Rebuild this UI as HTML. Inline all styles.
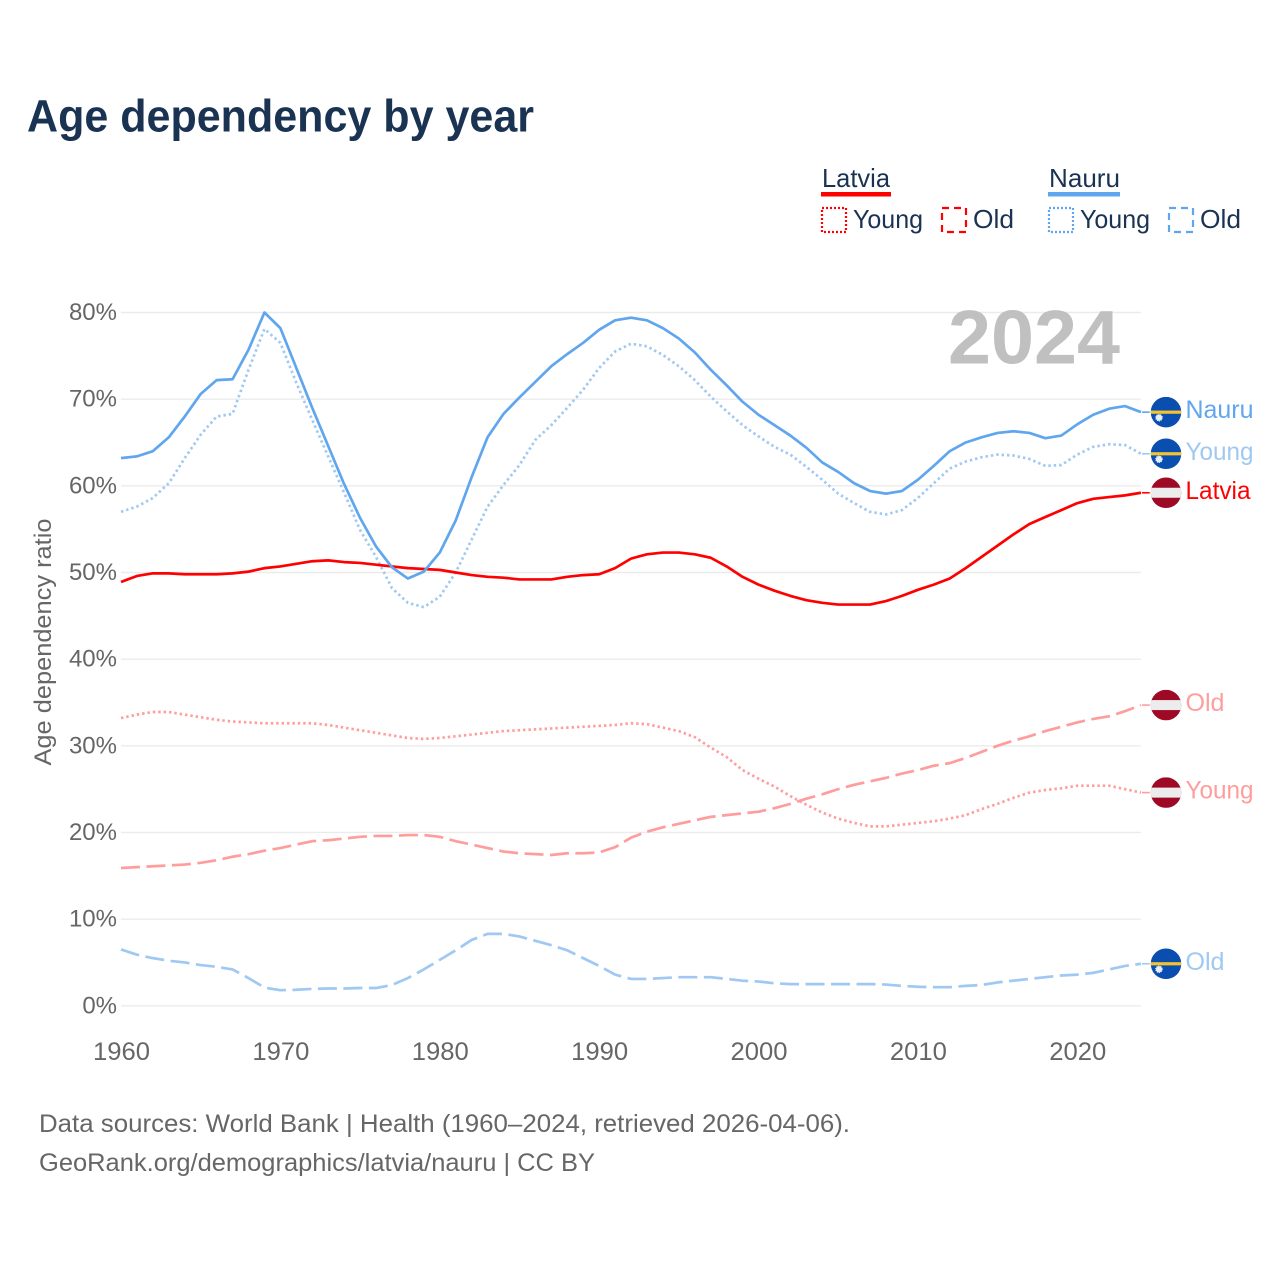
<!DOCTYPE html>
<html lang="en">
<head>
<meta charset="utf-8">
<title>Age dependency by year</title>
<style>
html,body{margin:0;padding:0;background:#fff;width:1280px;height:1280px;overflow:hidden}
svg{display:block}
text{font-family:"Liberation Sans",sans-serif}
</style>
</head>
<body>
<svg id="chart" xmlns="http://www.w3.org/2000/svg" width="1280" height="1280" viewBox="0 0 1280 1280">
  <rect width="1280" height="1280" fill="#ffffff"/>
  <text x="27" y="131.5" font-size="45" font-weight="700" fill="#1a3352" textLength="507" lengthAdjust="spacingAndGlyphs">Age dependency by year</text>

  <g font-size="26" fill="#1a3352">
    <text x="822" y="187" textLength="68" lengthAdjust="spacingAndGlyphs">Latvia</text>
    <rect x="821" y="192" width="70" height="4.5" fill="#ff0000"/>
    <rect x="822" y="208" width="24" height="24" fill="none" stroke="#ff0000" stroke-width="2.2" stroke-dasharray="2 2"/>
    <text x="853" y="228" textLength="70" lengthAdjust="spacingAndGlyphs">Young</text>
    <rect x="942" y="208" width="24" height="24" fill="none" stroke="#ff0000" stroke-width="2.2" stroke-dasharray="7 5"/>
    <text x="973" y="228" textLength="41" lengthAdjust="spacingAndGlyphs">Old</text>
    <text x="1049" y="187" textLength="71" lengthAdjust="spacingAndGlyphs">Nauru</text>
    <rect x="1048" y="192" width="72" height="4.5" fill="#5fa6ee"/>
    <rect x="1049" y="208" width="24" height="24" fill="none" stroke="#5fa6ee" stroke-width="2.2" stroke-dasharray="2 2"/>
    <text x="1080" y="228" textLength="70" lengthAdjust="spacingAndGlyphs">Young</text>
    <rect x="1169" y="208" width="24" height="24" fill="none" stroke="#5fa6ee" stroke-width="2.2" stroke-dasharray="7 5"/>
    <text x="1200" y="228" textLength="41" lengthAdjust="spacingAndGlyphs">Old</text>
  </g>

  <g id="grid"></g>
  <g id="yticks"></g>
  <g id="xticks"></g>
  <text x="948" y="363.5" font-size="76" font-weight="700" fill="#c0c0c0" textLength="172" lengthAdjust="spacingAndGlyphs">2024</text>
  <text transform="translate(51 642) rotate(-90)" text-anchor="middle" font-size="24" fill="#666666" textLength="247" lengthAdjust="spacingAndGlyphs">Age dependency ratio</text>
  <g id="series"></g>
  <g id="endmarks"></g>

  <text x="39" y="1132" font-size="25" fill="#666666" textLength="811" lengthAdjust="spacingAndGlyphs">Data sources: World Bank | Health (1960–2024, retrieved 2026-04-06).</text>
  <text x="39" y="1171" font-size="25" fill="#666666" textLength="556" lengthAdjust="spacingAndGlyphs">GeoRank.org/demographics/latvia/nauru | CC BY</text>
</svg>
<script>
var firstYear = 1960;
var lastYear = 2024;
var yearTicks = [1960, 1970, 1980, 1990, 2000, 2010, 2020];
var percentTicks = [0, 10, 20, 30, 40, 50, 60, 70, 80];

var nauruTotal = [63.2,63.4,64,65.6,68,70.6,72.2,72.3,75.7,80,78.2,73.6,69,64.6,60.2,56.3,53,50.6,49.3,50.1,52.3,56,61,65.6,68.3,70.2,72,73.8,75.2,76.5,78,79.1,79.4,79.1,78.2,77,75.4,73.4,71.6,69.7,68.2,67,65.8,64.4,62.7,61.6,60.3,59.4,59.1,59.4,60.7,62.3,64,65,65.6,66.1,66.3,66.1,65.5,65.8,67.1,68.2,68.9,69.2,68.5];
var nauruYoung = [57,57.6,58.6,60.3,63.2,65.9,68,68.3,73.4,78.1,76.5,71.9,67.6,63.4,59.2,54.9,51.8,48.2,46.5,46,47.2,50,53.8,57.6,60.1,62.4,65.3,67,69,71.1,73.6,75.5,76.4,76.1,75.1,73.8,72.2,70.3,68.6,67,65.7,64.5,63.6,62.2,60.7,59.1,58,57,56.7,57.2,58.6,60.3,62,62.8,63.3,63.6,63.5,63.1,62.3,62.4,63.6,64.5,64.8,64.7,63.7];
var nauruOld = [6.5,5.9,5.5,5.2,5,4.7,4.5,4.2,3.2,2.1,1.8,1.85,1.95,2,2,2.05,2.05,2.4,3.2,4.2,5.3,6.4,7.6,8.3,8.3,8,7.5,7,6.4,5.5,4.6,3.6,3.1,3.1,3.2,3.3,3.3,3.3,3.1,2.9,2.8,2.6,2.5,2.5,2.5,2.5,2.5,2.5,2.45,2.3,2.2,2.15,2.15,2.3,2.4,2.7,2.9,3.1,3.3,3.5,3.6,3.8,4.2,4.6,4.85];
var latviaTotal = [48.9,49.6,49.9,49.9,49.8,49.8,49.8,49.9,50.1,50.5,50.7,51,51.3,51.4,51.2,51.1,50.9,50.7,50.5,50.4,50.3,50,49.7,49.5,49.4,49.2,49.2,49.2,49.5,49.7,49.8,50.5,51.6,52.1,52.3,52.3,52.1,51.7,50.7,49.5,48.6,47.9,47.3,46.8,46.5,46.3,46.3,46.3,46.7,47.3,48,48.6,49.3,50.5,51.8,53.1,54.4,55.6,56.4,57.2,58,58.5,58.7,58.9,59.2];
var latviaYoung = [33.2,33.6,33.9,33.9,33.6,33.3,33,32.8,32.7,32.6,32.6,32.6,32.6,32.4,32.1,31.8,31.5,31.2,30.9,30.8,30.9,31.1,31.3,31.5,31.7,31.8,31.9,32,32.1,32.2,32.3,32.4,32.6,32.5,32.1,31.7,31,29.8,28.7,27.2,26.2,25.3,24.2,23.2,22.3,21.6,21.1,20.7,20.7,20.9,21.1,21.3,21.6,22,22.7,23.3,24,24.6,24.9,25.1,25.4,25.4,25.4,25,24.6];
var latviaOld = [15.9,16,16.1,16.2,16.3,16.5,16.8,17.2,17.5,17.9,18.2,18.6,19,19.1,19.3,19.5,19.6,19.6,19.7,19.7,19.5,19,18.6,18.2,17.8,17.6,17.5,17.4,17.6,17.6,17.7,18.3,19.4,20.1,20.6,21,21.4,21.8,22,22.2,22.4,22.8,23.3,23.9,24.4,25,25.5,25.9,26.3,26.8,27.2,27.7,28,28.6,29.3,30,30.6,31.1,31.7,32.2,32.7,33.1,33.4,34,34.7];

var NS = 'http://www.w3.org/2000/svg';
var chartLeft = 121, chartRight = 1141, zeroY = 1005.8, topY = 312.5, maxPct = 80;
function xScale(year) { return chartLeft + (year - firstYear) * (chartRight - chartLeft) / (lastYear - firstYear); }
function yScale(pct) { return zeroY - pct * (zeroY - topY) / maxPct; }
function make(tag, attrs, parent) {
  var el = document.createElementNS(NS, tag);
  for (var k in attrs) { el.setAttribute(k, attrs[k]); }
  parent.appendChild(el);
  return el;
}

var gridG = document.getElementById('grid');
var yG = document.getElementById('yticks');
percentTicks.forEach(function (p) {
  var line = make('line', {x1: chartLeft, x2: chartRight, y1: yScale(p), y2: yScale(p), stroke: '#ebebeb', 'stroke-width': 1.4}, gridG);
  
  
  var t = make('text', {x: 117, y: yScale(p) + 7.5, 'text-anchor': 'end', 'font-size': 24, fill: '#666666'}, yG);
  
  
  t.textContent = p + '%';
});

var xG = document.getElementById('xticks');
yearTicks.forEach(function (yr) {
  var t = make('text', {x: xScale(yr) + 0.5, y: 1060, 'text-anchor': 'middle', 'font-size': 25, fill: '#666666', textLength: 57, lengthAdjust: 'spacingAndGlyphs'}, xG);
  
  
  t.textContent = yr;
});

var seriesG = document.getElementById('series');
function drawLine(name, values, color, width, dash) {
  var d = values.map(function (v, i) {
    return (i ? 'L' : 'M') + xScale(firstYear + i).toFixed(2) + ' ' + yScale(v).toFixed(2);
  }).join(' ');
  var attrs = {d: d, fill: 'none', stroke: color, 'stroke-width': width, 'stroke-linejoin': 'round'};
  if (dash) { attrs['stroke-dasharray'] = dash; }
  var p = make('path', attrs, seriesG);
  
  
}
var DOT = '2.4 3', DASH = '19 6.5';
drawLine('line-latvia-young', latviaYoung, '#ff9d9d', 2.7, DOT);
drawLine('line-latvia-old', latviaOld, '#ff9d9d', 2.7, DASH);
drawLine('line-nauru-old', nauruOld, '#9fc8f2', 2.7, DASH);
drawLine('line-nauru-young', nauruYoung, '#9fc8f2', 2.7, DOT);
drawLine('line-latvia-total', latviaTotal, '#ff0000', 2.7, '');
drawLine('line-nauru-total', nauruTotal, '#5fa6ee', 2.7, '');

var endG = document.getElementById('endmarks');
var flagX = 1166, flagR = 15.3;
var clipDefs = make('defs', {}, endG);
var clipCount = 0;
function drawFlag(country, cy, parent) {
  clipCount += 1;
  var id = 'flag-clip-' + clipCount;
  var clip = make('clipPath', {id: id}, clipDefs);
  make('circle', {cx: flagX, cy: cy, r: flagR}, clip);
  var g = make('g', {'clip-path': 'url(#' + id + ')'}, parent);
  
  
  var l = flagX - flagR, w = flagR * 2;
  if (country === 'nauru') {
    make('rect', {x: l, y: cy - flagR, width: w, height: w, fill: '#0a4fb0'}, g);
    make('rect', {x: l, y: cy - 1.6, width: w, height: 3.2, fill: '#f4c430'}, g);
    make('circle', {cx: flagX - 7, cy: cy + 5.5, r: 3.2, fill: '#e8eef8', stroke: '#e8eef8', 'stroke-width': 1.2, 'stroke-dasharray': '1 1'}, g);
  } else {
    make('rect', {x: l, y: cy - flagR, width: w, height: w, fill: '#9e0a25'}, g);
    make('rect', {x: l, y: cy - 5, width: w, height: 10, fill: '#ececec'}, g);
  }
}
function drawEnd(name, label, country, values, color, width) {
  var cy = yScale(values[values.length - 1]);
  var g = make('g', {}, endG);
  
  
  var c = make('line', {x1: chartRight + 1, x2: flagX - flagR - 1, y1: cy, y2: cy, stroke: color, 'stroke-width': width}, g);
  
  
  drawFlag(country, cy, g);
  var lenMap = {Nauru: 68, Latvia: 65, Young: 68, Old: 39};
  var t = make('text', {x: 1185.5, y: cy + 6, 'font-size': 25, fill: color, textLength: lenMap[label], lengthAdjust: 'spacingAndGlyphs'}, g);
  
  
  t.textContent = label;
}
drawEnd('nauru-total', 'Nauru', 'nauru', nauruTotal, '#5fa6ee', 1.6);
drawEnd('nauru-young', 'Young', 'nauru', nauruYoung, '#9fc8f2', 1.6);
drawEnd('latvia-total', 'Latvia', 'latvia', latviaTotal, '#ff0000', 1.6);
drawEnd('latvia-old', 'Old', 'latvia', latviaOld, '#ff9d9d', 1.6);
drawEnd('latvia-young', 'Young', 'latvia', latviaYoung, '#ff9d9d', 1.6);
drawEnd('nauru-old', 'Old', 'nauru', nauruOld, '#9fc8f2', 1.6);
</script>
</body>
</html>
